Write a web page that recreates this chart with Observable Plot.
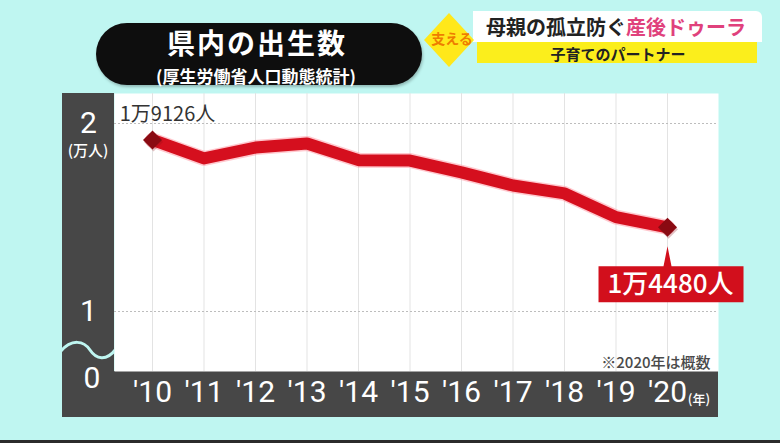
<!DOCTYPE html>
<html>
<head>
<meta charset="utf-8">
<script src="https://cdn.jsdelivr.net/npm/d3@7"></script>
<script src="https://cdn.jsdelivr.net/npm/@observablehq/plot@0.6"></script>
<style>
  html, body { margin: 0; padding: 0; background: #bff6f1; }
  #stage { position: relative; width: 780px; height: 443px; overflow: hidden; background: #bff6f1;
           font-family: "Noto Sans CJK JP", "Noto Sans", sans-serif; }
  .abs { position: absolute; }
  .dark { position: absolute; background: #474747; }
  .c { position: absolute; transform: translate(-50%, -50%); white-space: nowrap; line-height: 1; }
</style>
</head>
<body>
<div id="stage">
  <div class="dark" style="left:62px;top:93px;width:52px;height:324px"></div>
  <div class="dark" style="left:62px;top:371px;width:656px;height:46px"></div>
  <svg class="abs" style="left:0;top:0" width="780" height="443">
    <path d="M60,352 C72,338 84,341 90,350 S106,362 116,349" fill="none" stroke="#bff6f1" stroke-width="3"/>
  </svg>

  <!-- header left pill -->
  <div class="abs" style="left:96px;top:23px;width:326px;height:62px;border-radius:31px;background:#0e0e0e;box-shadow:1px 2px 3px rgba(0,0,0,0.25)"></div>
  <div class="c" style="left:257px;top:42px;color:#fff;font-size:28px;letter-spacing:2px;font-weight:700;">県内の出生数</div>
  <div class="c" style="left:256px;top:75px;color:#fff;font-size:17px;font-weight:700;">(厚生労働省人口動態統計)</div>

  <!-- header right banner -->
  <div class="abs" style="left:473px;top:11px;width:289px;height:31px;background:#fff;border-radius:0 6px 0 0"></div>
  <div class="abs" style="left:477px;top:42px;width:280px;height:21px;background:#fbee1c"></div>
  <svg class="abs" style="left:0;top:0" width="780" height="100">
    <polygon points="449,13 474,40 449,67 424,40" fill="#ffe81a"/>
  </svg>
  <div class="c" style="left:452px;top:38px;color:#ee7d00;font-size:14px;font-weight:700;">支える</div>
  <div class="c" style="left:616px;top:27px;color:#222;font-size:20px;font-weight:700;">母親の孤立防ぐ<span style="color:#e0417c">産後ドゥーラ</span></div>
  <div class="c" style="left:618px;top:53px;color:#222;font-size:15px;font-weight:700;">子育てのパートナー</div>

  <div id="chart" class="abs" style="left:0;top:0"></div>

  <div class="c" style="left:88px;top:149px;color:#fff;font-size:15px;font-weight:500;">(万人)</div>
  <div class="c" style="left:92px;top:378px;color:#fff;font-size:30px;font-family:Roboto,sans-serif;">0</div>
  <div class="c" style="left:699px;top:398px;color:#fff;font-size:13px;font-weight:500;">(年)</div>
  <div class="abs" style="left:0;top:440px;width:780px;height:3px;background:#2b2b2b"></div>
</div>
<script>
// ---- data ----
const years = [2010, 2011, 2012, 2013, 2014, 2015, 2016, 2017, 2018, 2019, 2020];
const births = [19126, 18140, 18720, 18940, 18050, 18030, 17400, 16700, 16280, 15020, 14480];
const yTicks = [10000, 20000];
const noteText = "※2020年は概数";

const data = years.map((year, i) => ({year, births: births[i]}));
const first = data[0];
const last = data[data.length - 1];
const fmt = v => `${Math.floor(v / 10000)}万${v % 10000}人`;

// callout shape (box with pointer) drawn relative to the point
const callout = {
  draw(ctx) {
    ctx.moveTo(-4, 39); ctx.lineTo(0, 19); ctx.lineTo(4, 39);
    ctx.lineTo(76, 39); ctx.lineTo(76, 75); ctx.lineTo(-69, 75); ctx.lineTo(-69, 39);
    ctx.closePath();
  }
};

const chart = Plot.plot({
  width: 780,
  height: 443,
  marginLeft: 114,
  marginRight: 62,
  marginTop: 93,
  marginBottom: 72,
  style: {background: "transparent", fontFamily: "Roboto, 'Noto Sans CJK JP', sans-serif", overflow: "visible"},
  x: {domain: [2009.262, 2020.99]},
  y: {domain: [6809, 21596]},
  marks: [
    Plot.frame({fill: "white", stroke: "none"}),
    Plot.gridX(years, {stroke: "#e3e3e3", strokeOpacity: 1}),
    Plot.gridY(yTicks, {stroke: "#bdbdbd", strokeOpacity: 1, strokeDasharray: "2,2"}),
    Plot.axisY(yTicks, {tickFormat: d => String(d / 10000), tickSize: 0, tickPadding: 26, textAnchor: "middle",
      fontSize: 30, fill: "white", label: null}),
    Plot.axisX(years, {tickFormat: d => "'" + String(d).slice(2), tickSize: 0, tickPadding: 9,
      fontSize: 30, fill: "white", label: null}),
    Plot.text([noteText], {frameAnchor: "bottom-right", text: d => d, dx: -8, dy: -4, fontSize: 15,
      fill: "#4a4a4a", fontFamily: "'Noto Sans CJK JP', sans-serif", fontWeight: 500}),
    Plot.line(data, {x: "year", y: "births", stroke: "#ff9aa6", strokeWidth: 15, strokeOpacity: 0.55}),
    Plot.line(data, {x: "year", y: "births", stroke: "#d50f1e", strokeWidth: 12}),
    Plot.dot([last], {x: "year", y: "births", symbol: callout, fill: "#d20f1c", stroke: "none"}),
    Plot.dot([first, last], {x: "year", y: "births", symbol: "square", rotate: 45, r: 7.6, fill: "#8a0a12",
      stroke: "none", dx: 1, dy: 2, fillOpacity: 0.25}),
    Plot.dot([first, last], {x: "year", y: "births", symbol: "square", rotate: 45, r: 7.6, fill: "#8a0a12", stroke: "none"}),
    Plot.text([first], {x: "year", y: "births", text: d => fmt(d.births), dx: 15, dy: -25, fontSize: 20,
      fill: "#333", fontFamily: "'Noto Sans CJK JP', sans-serif"}),
    Plot.text([last], {x: "year", y: "births", text: d => fmt(d.births), dx: 3, dy: 57, fontSize: 26,
      fill: "white", fontFamily: "'Noto Sans CJK JP', sans-serif", fontWeight: 500})
  ]
});
document.getElementById("chart").appendChild(chart);
</script>
</body>
</html>
